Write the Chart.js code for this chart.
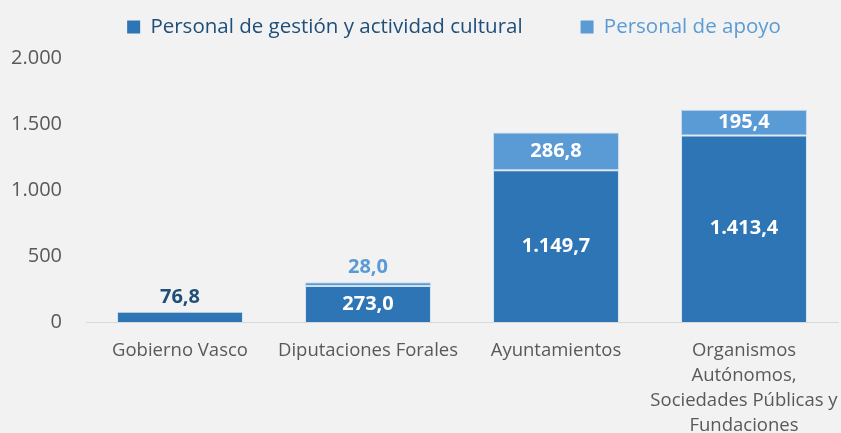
<!DOCTYPE html>
<html>
<head>
<meta charset="utf-8">
<script src="https://cdn.jsdelivr.net/npm/chart.js@4"></script>
<style>
html,body{margin:0;padding:0;background:#f2f2f2;}
#wrap{width:841px;height:433px;position:relative;}
</style>
</head>
<body>
<div id="wrap"><canvas id="c" width="841" height="433"></canvas></div>
<script>
const categories = [
  "Gobierno Vasco",
  "Diputaciones Forales",
  "Ayuntamientos",
  ["Organismos", "Autónomos,", "Sociedades Públicas y", "Fundaciones"]
];
const seriesNames = ["Personal de gestión y actividad cultural", "Personal de apoyo"];
const gestionValues = [76.8, 273.0, 1149.7, 1413.4];
const apoyoValues = [null, 28.0, 286.8, 195.4];
const yTicks = [0, 500, 1000, 1500, 2000];

const DARK = "#2e75b6";
const LIGHT = "#5b9bd5";
const NAVY = "#1f4e79";
const FONT = "'Open Sans', 'Noto Sans', sans-serif";
const LEGEND_FS = 20.5;
const LEGEND_PAD = 58;

function fmtThousands(n) {
  return String(n).replace(/\B(?=(\d{3})+(?!\d))/g, ".");
}
function fmtValue(v) {
  const parts = v.toFixed(1).split(".");
  return fmtThousands(parts[0]) + "," + parts[1];
}

const labelPlugin = {
  id: "valueLabels",
  afterDatasetsDraw(chart) {
    const ctx = chart.ctx;
    ctx.save();
    ctx.font = "bold 20px " + FONT;
    ctx.textAlign = "center";
    ctx.textBaseline = "middle";
    chart.data.datasets.forEach((ds, di) => {
      const meta = chart.getDatasetMeta(di);
      meta.data.forEach((bar, i) => {
        const v = ds.data[i];
        if (v == null) return;
        const top = Math.min(bar.y, bar.base);
        const h = Math.abs(bar.base - bar.y);
        if (h < 24) {
          let stackTop = top;
          chart.data.datasets.forEach((d2, j) => {
            const b2 = chart.getDatasetMeta(j).data[i];
            if (d2.data[i] != null) stackTop = Math.min(stackTop, b2.y);
          });
          ctx.fillStyle = di === 0 ? NAVY : LIGHT;
          ctx.fillText(fmtValue(v), bar.x, stackTop - 15);
        } else {
          ctx.fillStyle = "#ffffff";
          ctx.fillText(fmtValue(v), bar.x, top + h / 2);
        }
      });
    });
    ctx.restore();
  }
};

const legendFix = {
  id: "legendFix",
  beforeLayout(chart) {
    const lg = chart.legend;
    if (lg && !lg._patched) {
      const orig = lg.fit;
      lg.fit = function () { orig.call(this); this.height = 52; };
      lg._patched = true;
    }
  },
  afterLayout(chart) {
    const lg = chart.legend;
    if (!lg) return;
    // centre the legend row near x=454 and the text line at y=27
    lg.left = 454 * 2 - 1000;
    lg.right = 1000;
    lg.top = 27 - LEGEND_PAD - LEGEND_FS / 2;
    lg.bottom = 58;
  }
};

new Chart(document.getElementById("c"), {
  type: "bar",
  data: {
    labels: categories,
    datasets: [
      { label: seriesNames[0], data: gestionValues, backgroundColor: DARK, borderColor: "rgba(189,215,238,0.55)", borderWidth: 1, borderSkipped: "bottom", categoryPercentage: 0.67, barPercentage: 1 },
      { label: seriesNames[1], data: apoyoValues, backgroundColor: LIGHT, borderColor: "rgba(189,215,238,0.8)", borderWidth: 1, borderSkipped: false, categoryPercentage: 0.67, barPercentage: 1 }
    ]
  },
  options: {
    responsive: false,
    animation: false,
    layout: { padding: { left: 0, right: 3, top: 6, bottom: 0 } },
    plugins: {
      tooltip: { enabled: false },
      legend: {
        position: "top",
        labels: {
          boxWidth: 13,
          boxHeight: 13,
          padding: LEGEND_PAD,
          font: { family: FONT, size: LEGEND_FS },
          generateLabels(chart) {
            return chart.data.datasets.map((ds, i) => ({
              text: ds.label,
              fillStyle: ds.backgroundColor,
              strokeStyle: ds.backgroundColor,
              lineWidth: 0,
              fontColor: i === 0 ? NAVY : LIGHT,
              datasetIndex: i,
              hidden: false
            }));
          }
        }
      }
    },
    scales: {
      x: {
        stacked: true,
        grid: { display: false, drawTicks: false },
        border: { display: true, color: "#d9d9d9", width: 1 },
        ticks: { color: "#595959", font: { family: FONT, size: 18.5, lineHeight: 1.35 }, padding: 16, maxRotation: 0, autoSkip: false },
        afterFit(s) { s.height = 111; s.paddingLeft = 0; s.paddingRight = 0; }
      },
      y: {
        stacked: true,
        min: 0,
        max: 2000,
        grid: { display: false, drawTicks: false },
        border: { display: false },
        afterBuildTicks(s) { s.ticks = yTicks.map(v => ({ value: v })); },
        ticks: {
          color: "#595959",
          font: { family: FONT, size: 20 },
          padding: 24,
          callback: (v) => fmtThousands(v)
        },
        afterFit(s) { s.width = 86; }
      }
    }
  },
  plugins: [labelPlugin, legendFix]
});
</script>
</body>
</html>
